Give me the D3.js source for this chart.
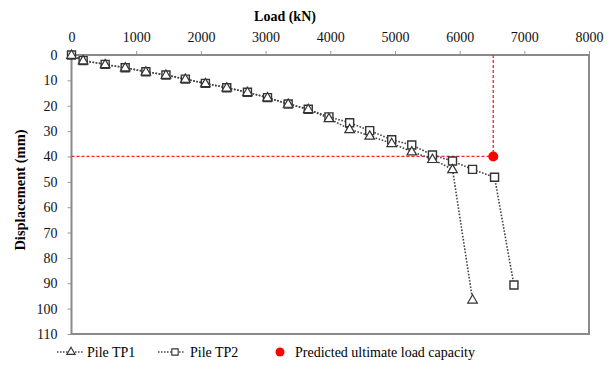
<!DOCTYPE html>
<html><head><meta charset="utf-8">
<script src="https://cdn.jsdelivr.net/npm/d3@7"></script>
<style>body{margin:0;background:#fff}svg{display:block}</style>
</head><body>
<svg id="c" width="610" height="371"></svg>
<script>
const xTicks = [0,1000,2000,3000,4000,5000,6000,7000,8000];
const yTicks = [0,10,20,30,40,50,60,70,80,90,100,110];
const tp1Load = [0,180,520,830,1150,1460,1760,2070,2400,2720,3030,3350,3660,3980,4300,4610,4950,5260,5580,5890,6200];
const tp1Disp = [0,2.2,3.7,5.0,6.6,7.9,9.5,11.2,12.9,14.7,16.8,19.3,21.4,25.0,29.3,31.9,34.8,38.1,41.1,45.1,96.5];
const tp2Load = [0,180,520,830,1150,1460,1760,2070,2400,2720,3030,3350,3660,3980,4300,4610,4950,5260,5580,5890,6200,6540,6840];
const tp2Disp = [0,2.2,3.7,5.0,6.6,7.9,9.5,11.2,12.9,14.7,16.8,19.3,21.4,24.4,26.7,29.8,33.4,35.5,39.4,41.8,45.1,48.2,90.7];
const ultLoad = 6520, ultDisp = 40;
const legendLabels = ["Pile TP1","Pile TP2","Predicted ultimate load capacity"];

const FONT = "'Liberation Serif', 'Times New Roman', Tinos, 'DejaVu Serif', serif";
const svg = d3.select("#c");
const L=71.5,R=589,T=55,B=334;
const x = d3.scaleLinear().domain([0,8000]).range([L,R]);
const y = d3.scaleLinear().domain([0,110]).range([T,B]);

const xa = svg.append("g").attr("transform",`translate(0,${T})`)
  .call(d3.axisTop(x).tickValues(xTicks).tickSize(4).tickPadding(9).tickFormat(d3.format("d")));
const ya = svg.append("g").attr("transform",`translate(${L},0)`)
  .call(d3.axisLeft(y).tickValues(yTicks).tickSize(4).tickPadding(10).tickFormat(d3.format("d")));
[xa,ya].forEach(a=>{
  a.attr("font-family",null).attr("font-size",null);
  a.select(".domain").remove();
  a.selectAll(".tick line").attr("stroke","#999").attr("stroke-width",1);
  a.selectAll("text").style("font-family",FONT).style("font-size","14px").attr("fill","#111");
});
svg.append("rect").attr("x",L).attr("y",T).attr("width",R-L).attr("height",B-T)
  .attr("fill","none").attr("stroke","#8a8a8a").attr("stroke-width",2);

svg.append("text").attr("x",285).attr("y",21).attr("text-anchor","middle")
  .style("font-family",FONT).style("font-size","14px").attr("font-weight","bold").text("Load (kN)");
svg.append("text").attr("transform","translate(25,190) rotate(-90)").attr("text-anchor","middle")
  .style("font-family",FONT).style("font-size","14.5px").attr("font-weight","bold").text("Displacement (mm)");

svg.append("line").attr("x1",x(0)).attr("x2",x(ultLoad)).attr("y1",y(ultDisp)).attr("y2",y(ultDisp))
  .attr("stroke","#ff2020").attr("stroke-width",1.3).attr("stroke-dasharray","3,2");
svg.append("line").attr("x1",x(ultLoad)).attr("x2",x(ultLoad)).attr("y1",y(0)).attr("y2",y(ultDisp))
  .attr("stroke","#ff2020").attr("stroke-width",1.3).attr("stroke-dasharray","3,2");

const line = d3.line().x(d=>x(d[0])).y(d=>y(d[1]));
const tp1 = tp1Load.map((v,i)=>[v,tp1Disp[i]]);
const tp2 = tp2Load.map((v,i)=>[v,tp2Disp[i]]);
[tp1,tp2].forEach(s=>{
  svg.append("path").attr("d",line(s)).attr("fill","none").attr("stroke","#444")
    .attr("stroke-width",1.6).attr("stroke-dasharray","1.6,1.6");
});
const sq = d3.symbol().type(d3.symbolSquare).size(64);
const tri = d3.symbol().type(d3.symbolTriangle).size(40);
svg.append("g").selectAll("path").data(tp2).join("path")
  .attr("transform",d=>`translate(${x(d[0])},${y(d[1])})`).attr("d",sq)
  .attr("fill","#fff").attr("stroke","#333").attr("stroke-width",1.4);
svg.append("g").selectAll("path").data(tp1).join("path")
  .attr("transform",d=>`translate(${x(d[0])},${y(d[1])+0.5})`).attr("d",tri)
  .attr("fill","#fff").attr("stroke","#333").attr("stroke-width",1.2);

svg.append("circle").attr("cx",x(ultLoad)).attr("cy",y(ultDisp)).attr("r",5).attr("fill","#ff0000");

const ly=352;
const lg = svg.append("g");
[[57,83,71,87],[158,185,175,190]].forEach((c,i)=>{
  lg.append("line").attr("x1",c[0]).attr("x2",c[1]).attr("y1",ly).attr("y2",ly)
    .attr("stroke","#444").attr("stroke-width",1.3).attr("stroke-dasharray","1.5,1.5");
  lg.append("path").attr("transform",`translate(${c[2]},${ly})`)
    .attr("d",i===0?d3.symbol().type(d3.symbolTriangle).size(30):d3.symbol().type(d3.symbolSquare).size(40))
    .attr("fill","#fff").attr("stroke","#333").attr("stroke-width",1.1);
  lg.append("text").attr("x",c[3]).attr("y",ly+5).style("font-family",FONT).style("font-size","14px").text(legendLabels[i]);
});
lg.append("circle").attr("cx",280).attr("cy",ly).attr("r",4.5).attr("fill","#ff0000");
lg.append("text").attr("x",295).attr("y",ly+5).style("font-family",FONT).style("font-size","14px").text(legendLabels[2]);
</script>
</body></html>
